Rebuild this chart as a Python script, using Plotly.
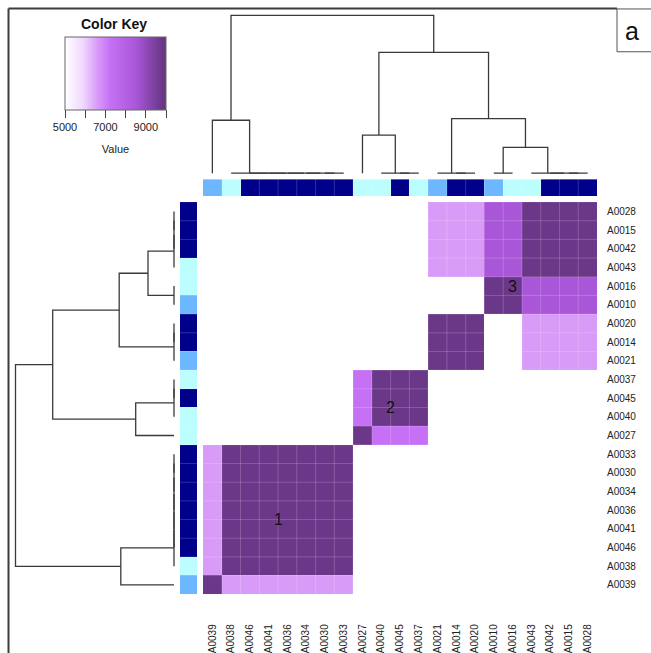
import plotly.graph_objects as go

# ---------------- data ----------------
samples = ["A0039", "A0038", "A0046", "A0041", "A0036", "A0034", "A0030", "A0033",
           "A0027", "A0040", "A0045", "A0037", "A0021", "A0014", "A0020", "A0010",
           "A0016", "A0043", "A0042", "A0015", "A0028"]

side_group = ["B", "C", "N", "N", "N", "N", "N", "N", "C", "C", "N", "C",
              "B", "N", "N", "B", "C", "C", "N", "N", "N"]
group_names = ["N", "B", "C"]
group_colors = ["#00008A", "#6CB7FF", "#BCFDFF"]

# rows follow the same sample order as columns (first sample drawn at the bottom)
values = [
    [9800, 6600, 6600, 6600, 6600, 6600, 6600, 6600, 5000, 5000, 5000, 5000, 5000, 5000, 5000, 5000, 5000, 5000, 5000, 5000, 5000],
    [6600, 9800, 9800, 9800, 9800, 9800, 9800, 9800, 5000, 5000, 5000, 5000, 5000, 5000, 5000, 5000, 5000, 5000, 5000, 5000, 5000],
    [6600, 9800, 9800, 9800, 9800, 9800, 9800, 9800, 5000, 5000, 5000, 5000, 5000, 5000, 5000, 5000, 5000, 5000, 5000, 5000, 5000],
    [6600, 9800, 9800, 9800, 9800, 9800, 9800, 9800, 5000, 5000, 5000, 5000, 5000, 5000, 5000, 5000, 5000, 5000, 5000, 5000, 5000],
    [6600, 9800, 9800, 9800, 9800, 9800, 9800, 9800, 5000, 5000, 5000, 5000, 5000, 5000, 5000, 5000, 5000, 5000, 5000, 5000, 5000],
    [6600, 9800, 9800, 9800, 9800, 9800, 9800, 9800, 5000, 5000, 5000, 5000, 5000, 5000, 5000, 5000, 5000, 5000, 5000, 5000, 5000],
    [6600, 9800, 9800, 9800, 9800, 9800, 9800, 9800, 5000, 5000, 5000, 5000, 5000, 5000, 5000, 5000, 5000, 5000, 5000, 5000, 5000],
    [6600, 9800, 9800, 9800, 9800, 9800, 9800, 9800, 5000, 5000, 5000, 5000, 5000, 5000, 5000, 5000, 5000, 5000, 5000, 5000, 5000],
    [5000, 5000, 5000, 5000, 5000, 5000, 5000, 5000, 9800, 7250, 7250, 7250, 5000, 5000, 5000, 5000, 5000, 5000, 5000, 5000, 5000],
    [5000, 5000, 5000, 5000, 5000, 5000, 5000, 5000, 7250, 9800, 9800, 9800, 5000, 5000, 5000, 5000, 5000, 5000, 5000, 5000, 5000],
    [5000, 5000, 5000, 5000, 5000, 5000, 5000, 5000, 7250, 9800, 9800, 9800, 5000, 5000, 5000, 5000, 5000, 5000, 5000, 5000, 5000],
    [5000, 5000, 5000, 5000, 5000, 5000, 5000, 5000, 7250, 9800, 9800, 9800, 5000, 5000, 5000, 5000, 5000, 5000, 5000, 5000, 5000],
    [5000, 5000, 5000, 5000, 5000, 5000, 5000, 5000, 5000, 5000, 5000, 5000, 9800, 9800, 9800, 5000, 5000, 6600, 6600, 6600, 6600],
    [5000, 5000, 5000, 5000, 5000, 5000, 5000, 5000, 5000, 5000, 5000, 5000, 9800, 9800, 9800, 5000, 5000, 6600, 6600, 6600, 6600],
    [5000, 5000, 5000, 5000, 5000, 5000, 5000, 5000, 5000, 5000, 5000, 5000, 9800, 9800, 9800, 5000, 5000, 6600, 6600, 6600, 6600],
    [5000, 5000, 5000, 5000, 5000, 5000, 5000, 5000, 5000, 5000, 5000, 5000, 5000, 5000, 5000, 9800, 9800, 8500, 8500, 8500, 8500],
    [5000, 5000, 5000, 5000, 5000, 5000, 5000, 5000, 5000, 5000, 5000, 5000, 5000, 5000, 5000, 9800, 9800, 8500, 8500, 8500, 8500],
    [5000, 5000, 5000, 5000, 5000, 5000, 5000, 5000, 5000, 5000, 5000, 5000, 6600, 6600, 6600, 8500, 8500, 9800, 9800, 9800, 9800],
    [5000, 5000, 5000, 5000, 5000, 5000, 5000, 5000, 5000, 5000, 5000, 5000, 6600, 6600, 6600, 8500, 8500, 9800, 9800, 9800, 9800],
    [5000, 5000, 5000, 5000, 5000, 5000, 5000, 5000, 5000, 5000, 5000, 5000, 6600, 6600, 6600, 8500, 8500, 9800, 9800, 9800, 9800],
    [5000, 5000, 5000, 5000, 5000, 5000, 5000, 5000, 5000, 5000, 5000, 5000, 6600, 6600, 6600, 8500, 8500, 9800, 9800, 9800, 9800],
]

# dendrogram: [height, left, right]
tree = [158.5,
        [53.2, "A0039",
         [0, "A0038", [0, "A0046", [0, "A0041", [0, "A0036", [0, "A0034", [0, "A0030", "A0033"]]]]]]],
        [121.3,
         [38.3, "A0027", [0, "A0040", [0, "A0045", "A0037"]]],
         [54.8,
          [0, "A0021", [0, "A0014", "A0020"]],
          [26.0,
           [0, "A0010", "A0016"],
           [0, "A0043", [0, "A0042", [0, "A0015", "A0028"]]]]]]]

clusters = {"1": ["A0039", "A0038", "A0046", "A0041", "A0036", "A0034", "A0030", "A0033"],
            "2": ["A0027", "A0040", "A0045", "A0037"],
            "3": ["A0021", "A0014", "A0020", "A0010", "A0016", "A0043", "A0042", "A0015", "A0028"]}

key_ticks = [5000, 6000, 7000, 8000, 9000, 10000]
key_labels = ["5000", "", "7000", "", "9000", ""]

# ---------------- layout helpers ----------------
W, H = 651, 653
FONT = "Liberation Sans, Arial, Helvetica, sans-serif"


def px(x):
    return x / W


def py(y):
    return 1 - y / H


n = len(samples)
idx = {s: i for i, s in enumerate(samples)}


def dendro_segments(node):
    """returns (position, height, list of (pos, h) polylines)"""
    if isinstance(node, str):
        return idx[node], 0.0, []
    h, left, right = node
    xl, hl, sl = dendro_segments(left)
    xr, hr, sr = dendro_segments(right)
    seg = [(xl, hl), (xl, h), (xr, h), (xr, hr)]
    return (xl + xr) / 2, h, sl + sr + [seg]


_, _, segs = dendro_segments(tree)
dpos, dh = [], []
for seg in segs:
    for p, hh in seg:
        dpos.append(p)
        dh.append(hh)
    dpos.append(None)
    dh.append(None)

colorscale = [[0.0, "#FFFFFF"], [0.18, "#EFD7FD"], [0.32, "#D99BF8"],
              [0.45, "#C670F5"], [0.70, "#A957D8"], [0.96, "#6B3889"], [1.0, "#66347F"]]

fig = go.Figure()

# main heatmap
fig.add_trace(go.Heatmap(
    z=values, x=list(range(n)), y=list(range(n)),
    zmin=5000, zmax=10000, colorscale=colorscale,
    xaxis="x", yaxis="y", hoverinfo="skip",
    colorbar=dict(orientation="h", thickness=73, thicknessmode="pixels",
                  len=101, lenmode="pixels",
                  x=px(115.5), xanchor="center", xref="paper",
                  y=py(37), yanchor="top", yref="paper",
                  xpad=0, ypad=0, outlinewidth=1, outlinecolor="#666",
                  tickvals=key_ticks, ticktext=key_labels, ticks="outside",
                  ticklen=8, tickcolor="#444", tickwidth=1,
                  tickfont=dict(size=11, family=FONT, color="#222"),
                  title=dict(text="<br>Value", side="bottom",
                             font=dict(size=11, family=FONT, color="#222"))),
))

gz = [group_names.index(g) for g in side_group]
side_scale = []
for k, c in enumerate(group_colors):
    side_scale.append([k / len(group_colors), c])
    side_scale.append([(k + 1) / len(group_colors), c])

# column side colours
fig.add_trace(go.Heatmap(z=[gz], x=list(range(n)), y=[0], zmin=-0.5, zmax=2.5,
                         colorscale=side_scale, showscale=False,
                         xaxis="x", yaxis="y2", hoverinfo="skip"))
# row side colours
fig.add_trace(go.Heatmap(z=[[g] for g in gz], x=[0], y=list(range(n)), zmin=-0.5, zmax=2.5,
                         colorscale=side_scale, showscale=False,
                         xaxis="x3", yaxis="y", hoverinfo="skip"))

# dendrograms
fig.add_trace(go.Scatter(x=dpos, y=dh, mode="lines", xaxis="x", yaxis="y4",
                         line=dict(color="#3a3a3a", width=1.3), hoverinfo="skip",
                         showlegend=False))
fig.add_trace(go.Scatter(x=dh, y=dpos, mode="lines", xaxis="x5", yaxis="y",
                         line=dict(color="#3a3a3a", width=1.3), hoverinfo="skip",
                         showlegend=False))

hide = dict(showgrid=False, zeroline=False, showticklabels=False, ticks="",
            showline=False)

fig.update_layout(
    width=W, height=H, margin=dict(l=0, r=0, t=0, b=0),
    paper_bgcolor="white", plot_bgcolor="rgba(0,0,0,0)",
    showlegend=False,
    xaxis=dict(domain=[px(203), px(597)], range=[-0.5, n - 0.5], anchor="y",
               tickvals=list(range(n)), ticktext=samples, tickangle=-90,
               ticks="", showgrid=False, zeroline=False, showline=False,
               ticklabelstandoff=27,
               tickfont=dict(size=10, family=FONT, color="#222")),
    yaxis=dict(domain=[py(597), py(203)], range=[-0.5, n - 0.5], anchor="x",
               side="right", tickvals=list(range(n)), ticktext=samples,
               ticks="", showgrid=False, zeroline=False, showline=False,
               ticklabelstandoff=9,
               tickfont=dict(size=10, family=FONT, color="#222")),
    yaxis2=dict(domain=[py(197), py(180)], range=[-0.5, 0.5], anchor="x", **hide),
    xaxis3=dict(domain=[px(180), px(197)], range=[-0.5, 0.5], anchor="y", **hide),
    yaxis4=dict(domain=[py(177), py(4)], range=[-3, 170], anchor="x", **hide),
    xaxis5=dict(domain=[0, px(177)], range=[174, -3], anchor="y", **hide),
)

# faint separators between cells
shapes = []
sep = dict(color="rgba(255,255,255,0.18)", width=1)
for k in range(1, n):
    shapes.append(dict(type="line", xref="x", yref="y", x0=k - 0.5, x1=k - 0.5,
                       y0=-0.5, y1=n - 0.5, line=sep, layer="above"))
    shapes.append(dict(type="line", xref="x", yref="y", y0=k - 0.5, y1=k - 0.5,
                       x0=-0.5, x1=n - 0.5, line=sep, layer="above"))
    shapes.append(dict(type="line", xref="x", yref="y2 domain", x0=k - 0.5, x1=k - 0.5,
                       y0=0, y1=1, line=sep, layer="above"))
    shapes.append(dict(type="line", xref="x3 domain", yref="y", y0=k - 0.5, y1=k - 0.5,
                       x0=0, x1=1, line=sep, layer="above"))

# outer frame and panel letter box
frame = dict(color="#3c3c3c", width=2)
shapes.append(dict(type="line", xref="paper", yref="paper", x0=px(8.5), x1=px(617),
                   y0=py(8.5), y1=py(8.5), line=frame))
shapes.append(dict(type="line", xref="paper", yref="paper", x0=px(8.5), x1=px(8.5),
                   y0=py(8.5), y1=py(660), line=frame))
shapes.append(dict(type="rect", xref="paper", yref="paper", x0=px(617), x1=px(670),
                   y0=py(9), y1=py(52), line=dict(color="#555", width=1)))
fig.update_layout(shapes=shapes)

annotations = [
    dict(text="<b>Color Key</b>", x=px(114), y=py(24), xref="paper", yref="paper",
         xanchor="center", yanchor="middle",
         showarrow=False, font=dict(size=14, family=FONT, color="#111")),
    dict(text="a", x=px(632), y=py(31), xref="paper", yref="paper",
         xanchor="center", yanchor="middle",
         showarrow=False, font=dict(size=25, family=FONT, color="#111")),
]
for name, members in clusters.items():
    cx = sum(idx[m] for m in members) / len(members)
    annotations.append(dict(text=name, x=cx, y=cx, xref="x", yref="y", showarrow=False,
                            xanchor="center", yanchor="middle",
                            font=dict(size=16, family=FONT, color="#111")))
fig.update_layout(annotations=annotations)

fig.write_html("out.html", config={"displayModeBar": False},
               post_script="document.body.style.margin='0px';")
